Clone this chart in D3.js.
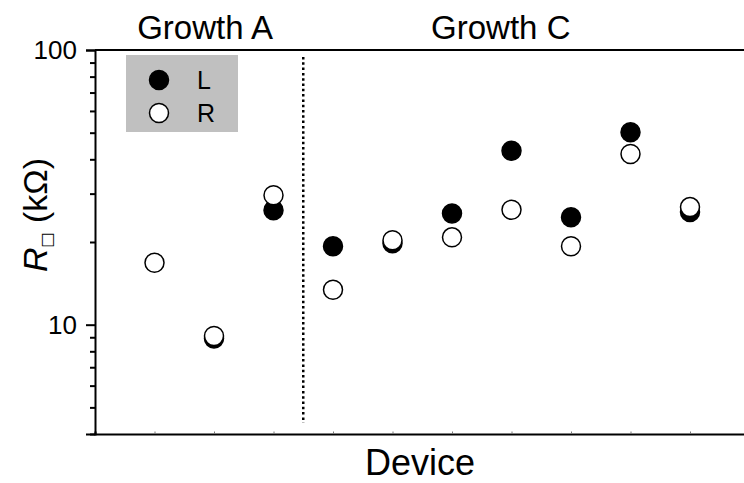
<!DOCTYPE html>
<html>
<head>
<meta charset="utf-8">
<script src="https://cdn.jsdelivr.net/npm/d3@7"></script>
<style>
  html, body { margin: 0; padding: 0; background: #fff; }
  svg { display: block; font-family: "Liberation Sans", Arial, sans-serif; }
</style>
</head>
<body>
<svg id="chart" width="744" height="483"></svg>
<script>
// Sheet resistance per device, left (L) and right (R) contacts, in kΩ
const devices = [1, 2, 3, 4, 5, 6, 7, 8, 9, 10];
const valuesL = [null, 8.9, 26.1, 19.3, 19.8, 25.4, 43.0, 24.6, 50.2, 25.7];
const valuesR = [16.8, 9.1, 29.6, 13.4, 20.3, 20.8, 26.2, 19.3, 41.8, 26.8];
const groupNames = ["Growth A", "Growth C"];
const groupCenters = [1.85, 6.82];
const groupDivider = 3.5;
const majorTicks = [10, 100];
const minorTicks = [4, 5, 6, 7, 8, 9, 20, 30, 40, 50, 60, 70, 80, 90];

const svg = d3.select("#chart");
const plot = { left: 95, top: 50, bottom: 434, right: 749.5 };

const x = d3.scaleLinear().domain([0, 11]).range([plot.left, plot.right]);
const y = d3.scaleLog().domain([4, 100]).range([plot.bottom, plot.top]);

// Frame: top line and bottom axis extend to the right edge
svg.append("line")
  .attr("x1", plot.left).attr("x2", plot.right).attr("y1", plot.top).attr("y2", plot.top)
  .attr("stroke", "#000").attr("stroke-width", 2);

// Bottom axis with small inward ticks at each device
const xAxis = svg.append("g").attr("transform", `translate(0,${plot.bottom})`)
  .call(d3.axisBottom(x).tickValues(devices).tickSize(-2.5).tickFormat(""));
xAxis.select(".domain").attr("stroke", "#000").attr("stroke-width", 2);
xAxis.selectAll(".tick line").attr("stroke", "#777").attr("stroke-width", 1);

// Left axis: major ticks with labels, minor ticks without
const yMinor = svg.append("g").attr("transform", `translate(${plot.left},0)`)
  .call(d3.axisLeft(y).tickValues(minorTicks).tickSize(5).tickFormat(""));
yMinor.select(".domain").remove();
yMinor.selectAll(".tick line").attr("stroke", "#000").attr("stroke-width", 2);

const yAxis = svg.append("g").attr("transform", `translate(${plot.left},0)`)
  .call(d3.axisLeft(y).tickValues(majorTicks).tickSize(9).tickPadding(9).tickFormat(d3.format("d")));
yAxis.select(".domain").attr("stroke", "#000").attr("stroke-width", 2);
yAxis.selectAll(".tick line").attr("stroke", "#000").attr("stroke-width", 2);
yAxis.selectAll(".tick text")
  .attr("font-size", 26).attr("fill", "#000")
  .attr("font-family", "Liberation Sans, Arial, sans-serif");

// Divider between the two growths
svg.append("line")
  .attr("x1", x(groupDivider)).attr("x2", x(groupDivider))
  .attr("y1", 57).attr("y2", 423)
  .attr("stroke", "#000").attr("stroke-width", 2.5)
  .attr("stroke-dasharray", "2.5,2.8");

// Group titles
svg.selectAll(".group-title").data(groupNames).join("text")
  .attr("class", "group-title")
  .attr("x", (d, i) => x(groupCenters[i]))
  .attr("y", 39)
  .attr("text-anchor", "middle")
  .attr("font-size", 33)
  .text(d => d);

// Legend
const legend = svg.append("g");
legend.append("rect")
  .attr("x", 126).attr("y", 55).attr("width", 112).attr("height", 77)
  .attr("fill", "#c0c0c0");
const legendItems = [
  { label: "L", fill: "#000", cy: 80 },
  { label: "R", fill: "#fff", cy: 113 }
];
legendItems.forEach(item => {
  legend.append("circle")
    .attr("cx", 159).attr("cy", item.cy).attr("r", 9.5)
    .attr("fill", item.fill).attr("stroke", "#000").attr("stroke-width", 1.5);
  legend.append("text")
    .attr("x", 197).attr("y", item.cy + 9)
    .attr("font-size", 25).text(item.label);
});

// Data points: L (filled) under R (open)
const r = 9.5;
svg.append("g").selectAll("circle")
  .data(devices.map((d, i) => ({ d, v: valuesL[i] })).filter(p => p.v != null))
  .join("circle")
  .attr("cx", p => x(p.d)).attr("cy", p => y(p.v)).attr("r", r)
  .attr("fill", "#000").attr("stroke", "#000").attr("stroke-width", 1.5);

svg.append("g").selectAll("circle")
  .data(devices.map((d, i) => ({ d, v: valuesR[i] })).filter(p => p.v != null))
  .join("circle")
  .attr("cx", p => x(p.d)).attr("cy", p => y(p.v)).attr("r", r)
  .attr("fill", "#fff").attr("stroke", "#000").attr("stroke-width", 1.5);

// Axis titles
svg.append("text")
  .attr("x", 420).attr("y", 475)
  .attr("text-anchor", "middle")
  .attr("font-size", 36)
  .text("Device");

const yTitle = svg.append("text")
  .attr("transform", "translate(47,215) rotate(-90)")
  .attr("text-anchor", "middle")
  .attr("font-size", 34);
yTitle.append("tspan").attr("font-style", "italic").text("R");
yTitle.append("tspan").attr("font-size", 16).attr("dy", 5).attr("font-family", "DejaVu Sans").text("\u25A1");
yTitle.append("tspan").attr("dy", -5).text(" (k\u03A9)");
</script>
</body>
</html>
